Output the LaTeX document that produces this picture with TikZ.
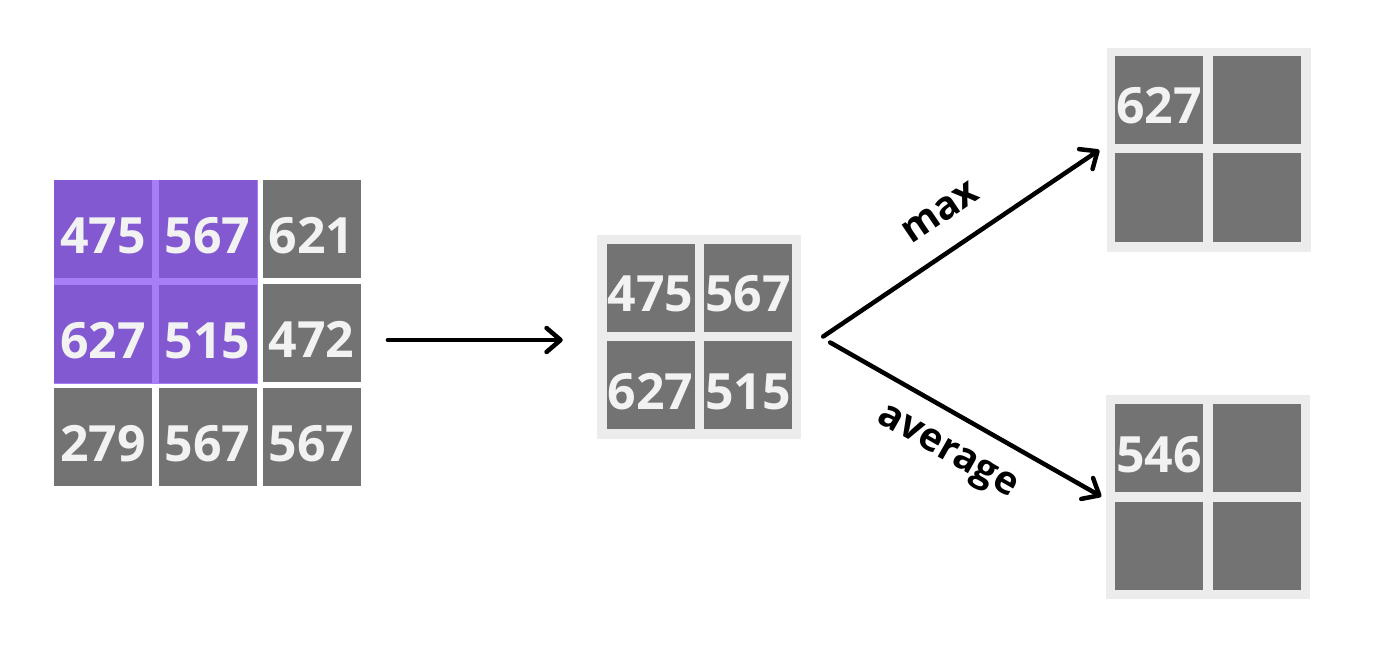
\documentclass[tikz,border=0pt]{standalone}
\usepackage{fontspec}
\setmainfont{Open Sans}
\usetikzlibrary{positioning, arrows.meta, fit}
\definecolor{CellGray}{RGB}{115,115,115}
\definecolor{PanelGray}{RGB}{236,236,236}
\definecolor{PoolPurple}{RGB}{131,89,209}
\definecolor{LinePurple}{RGB}{167,126,245}
\definecolor{DigitWhite}{RGB}{242,242,242}
\tikzset{
  cell/.style={rectangle, fill=CellGray, minimum size=98pt, inner sep=0pt,
    text=DigitWhite, text height=48pt, text depth=0pt,
    font=\fontsize{50}{50}\selectfont\bfseries},
  hotcell/.style={cell, fill=PoolPurple},
  smallcell/.style={cell, minimum size=88pt},
  panel/.style={rectangle, fill=PanelGray, minimum size=204pt, inner sep=0pt},
  flow/.style={-{Straight Barb[length=14pt, width=24pt, round]}, line width=4.5pt, line cap=round},
  oplabel/.style={inner sep=0pt, font=\fontsize{39}{39}\selectfont\bfseries}
}

\begin{document}
\begin{tikzpicture}[x=1pt, y=-1pt]
  \useasboundingbox (0,0) rectangle (1400,666);
  % input feature map, pooling window in purple
  \node[fill=LinePurple, minimum size=204pt, inner sep=0pt] (window) at (155.5,282) {};
  \node[hotcell] (in11) at (103,229) {475};
  \node[hotcell] (in12) at (207.5,229) {567};
  \node[cell]    (in13) at (311.5,229) {621};
  \node[hotcell] (in21) at (103,334) {627};
  \node[hotcell] (in22) at (207.5,334) {515};
  \node[cell]    (in23) at (311.5,333) {472};
  \node[cell]    (in31) at (103,437) {279};
  \node[cell]    (in32) at (207.5,437) {567};
  \node[cell]    (in33) at (311.5,437) {567};
  \node[fit=(in11)(in33), inner sep=0pt] (ingrid) {};

  % extracted 2x2 window
  \node[panel] (pool) at (699,336.5) {};
  \node[smallcell] (p11) at (650.5,287.5) {475};
  \node[smallcell] (p12) at (748,287.5) {567};
  \node[smallcell] (p21) at (650.5,385) {627};
  \node[smallcell] (p22) at (748,385) {515};

  % results
  \node[panel] (maxpool) at (1208.5,150) {};
  \node[smallcell] (m11) at (1159,100) {627};
  \foreach \pos [count=\k] in {(1256.5,100),(1159,197.5),(1256.5,197.5)}
    \node[smallcell] (m\k) at \pos {};

  \node[panel] (avgpool) at (1207.5,496.5) {};
  \node[smallcell] (a11) at (1159,448) {546};
  \foreach \pos [count=\k] in {(1257,448),(1159,546),(1257,546)}
    \node[smallcell] (a\k) at \pos {};

  % connectors
  \draw[flow] ([xshift=27pt,yshift=-7pt]ingrid.east) -- ([xshift=-34pt,yshift=-3.5pt]pool.west);
  \draw[flow] ([xshift=22pt]pool.east) -- ([xshift=-7pt]maxpool.west)
    node[oplabel, midway, sloped, above=24pt] (maxlbl) {max};
  \draw[flow] ([xshift=29pt,yshift=-6pt]pool.east) -- ([xshift=-4pt]avgpool.west)
    node[oplabel, midway, sloped, below=22pt] (avglbl) {average};
\end{tikzpicture}
\end{document}
